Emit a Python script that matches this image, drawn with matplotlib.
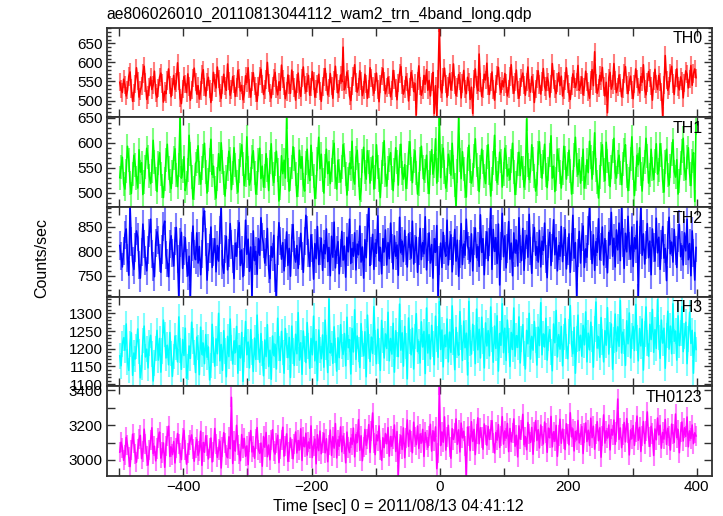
import numpy as np
import matplotlib
matplotlib.use("Agg")
import matplotlib.pyplot as plt
from matplotlib.ticker import MultipleLocator, FuncFormatter

plt.rcParams['font.family'] = ['Liberation Sans', 'DejaVu Sans']

title = "ae806026010_20110813044112_wam2_trn_4band_long.qdp"
xlabel = "Time [sec] 0 = 2011/08/13 04:41:12"
ylabel = "Counts/sec"
band_names = ["TH0", "TH1", "TH2", "TH3", "TH0123"]
band_colors = ["#ff0000", "#00ff00", "#0000ff", "#00ffff", "#ff00ff"]

t_first = -499.0
t_last = 399.0

th0 = [548, 530, 521, 556, 541, 512, 527, 563, 575, 532, 498, 519, 544, 586, 551, 509, 526, 538, 571, 590, 547, 503, 515, 536, 562, 529, 541, 577, 519, 508,
       533, 561, 572, 545, 496, 524, 518, 553, 583, 540, 510, 535, 566, 529, 547, 599, 552, 507, 492, 531, 563, 544, 521, 570, 537, 501, 528, 559, 585, 548,
       517, 539, 504, 526, 568, 581, 536, 512, 549, 561, 530, 495, 522, 574, 546, 533, 588, 557, 520, 506, 541, 569, 538, 527, 596, 551, 514, 529, 563, 543,
       511, 534, 579, 558, 525, 540, 502, 518, 565, 547, 586, 532, 509, 550, 573, 539, 521, 498, 537, 564, 582, 543, 516, 529, 555, 600, 546, 520, 507, 539,
       560, 574, 531, 515, 549, 527, 593, 556, 538, 505, 524, 567, 542, 519, 580, 553, 534, 501, 545, 572, 528, 511, 559, 588, 540, 523, 547, 566, 514, 536,
       576, 552, 509, 530, 544, 569, 525, 498, 537, 562, 584, 548, 515, 533, 571, 539, 506, 553, 590, 545, 520, 531, 567, 549, 640, 528, 541, 575, 556, 512,
       500, 538, 563, 594, 547, 522, 535, 578, 551, 513, 528, 569, 544, 506, 531, 586, 560, 537, 519, 549, 572, 529, 497, 543, 565, 584, 550, 518, 534, 561,
       540, 510, 526, 579, 555, 533, 502, 546, 571, 589, 541, 517, 530, 563, 548, 499, 536, 574, 557, 524, 545, 462, 552, 591, 538, 514, 529, 566, 543, 581,
       527, 553, 512, 548, 574, 466, 539, 460, 556, 705, 531, 520, 562, 585, 544, 509, 537, 571, 528, 550, 596, 541, 513, 534, 568, 552, 507, 545, 579, 530,
       518, 561, 549, 503, 535, 466, 557, 583, 540, 526, 622, 547, 511, 532, 569, 554, 598, 538, 516, 548, 575, 529, 501, 543, 566, 587, 539, 521, 552, 536,
       571, 545, 512, 530, 563, 594, 541, 519, 548, 580, 527, 506, 535, 559, 572, 540, 514, 549, 588, 533, 522, 563, 545, 495, 531, 556, 578, 542, 517, 550,
       584, 537, 526, 561, 548, 509, 543, 597, 555, 530, 518, 547, 573, 539, 564, 512, 529, 551, 586, 544, 521, 503, 538, 570, 557, 534, 548, 592, 527, 540,
       562, 515, 536, 577, 549, 524, 506, 553, 581, 539, 628, 545, 519, 533, 566, 551, 587, 537, 512, 548, 468, 559, 574, 530, 542, 597, 553, 521, 535, 567,
       546, 510, 532, 571, 589, 541, 518, 550, 564, 527, 505, 544, 583, 556, 535, 520, 563, 548, 594, 531, 515, 547, 576, 559, 538, 501, 552, 582, 543, 529,
       566, 549, 523, 458, 541, 618, 554, 527, 538, 573, 590, 545, 516, 559, 583, 537, 528, 562, 551, 507, 546, 578, 569, 533, 557, 592, 540, 571, 583, 560]

th1 = [530, 552, 571, 518, 507, 544, 593, 566, 520, 498, 537, 575, 556, 529, 509, 586, 541, 560, 496, 522, 552, 589, 571, 533, 518, 544, 605, 561, 527, 502,
       559, 580, 538, 514, 490, 527, 566, 597, 549, 523, 508, 541, 570, 588, 535, 512, 556, 655, 529, 543, 572, 504, 519, 546, 615, 577, 531, 487, 510, 558,
       563, 594, 539, 517, 550, 574, 599, 541, 499, 525, 566, 607, 536, 553, 510, 489, 528, 578, 544, 600, 561, 519, 493, 532, 547, 583, 568, 506, 540, 590,
       555, 522, 501, 543, 575, 596, 558, 514, 536, 612, 549, 515, 527, 571, 584, 540, 497, 519, 566, 589, 528, 553, 511, 534, 578, 545, 504, 561, 598, 537,
       520, 557, 583, 546, 483, 509, 574, 538, 565, 529, 652, 546, 503, 528, 551, 592, 568, 537, 492, 515, 585, 549, 572, 516, 503, 560, 587, 541, 524, 595,
       557, 533, 488, 512, 567, 611, 548, 577, 526, 499, 554, 587, 538, 562, 518, 546, 581, 599, 532, 507, 565, 544, 521, 551, 596, 576, 537, 495, 528, 559,
       548, 603, 530, 517, 570, 585, 535, 486, 506, 563, 591, 541, 527, 584, 562, 519, 548, 573, 507, 531, 596, 552, 525, 490, 541, 578, 604, 535, 513, 549,
       566, 580, 529, 504, 545, 590, 561, 515, 573, 597, 540, 527, 556, 508, 531, 579, 602, 548, 520, 563, 584, 539, 497, 517, 568, 593, 551, 526, 543, 575,
       522, 498, 560, 586, 537, 554, 608, 519, 545, 658, 530, 574, 589, 541, 509, 526, 577, 562, 535, 599, 551, 516, 470, 544, 650, 565, 528, 582, 547, 513,
       491, 568, 595, 543, 519, 535, 574, 608, 556, 528, 502, 551, 587, 562, 534, 518, 571, 596, 540, 493, 527, 560, 615, 548, 520, 539, 581, 564, 511, 538,
       589, 572, 533, 547, 526, 564, 599, 541, 496, 519, 558, 581, 534, 572, 549, 511, 530, 648, 555, 526, 543, 596, 567, 534, 503, 518, 579, 602, 553, 529,
       562, 597, 536, 510, 548, 575, 614, 529, 553, 502, 527, 587, 566, 541, 509, 540, 593, 570, 527, 558, 585, 544, 497, 521, 575, 611, 555, 536, 566, 519,
       548, 587, 509, 531, 566, 540, 603, 571, 527, 559, 620, 545, 522, 489, 531, 578, 596, 546, 524, 601, 563, 538, 512, 552, 583, 609, 541, 529, 561, 575,
       540, 516, 558, 585, 596, 533, 504, 527, 567, 612, 550, 494, 528, 575, 556, 590, 537, 503, 548, 562, 609, 574, 519, 536, 587, 548, 526, 563, 598, 537,
       545, 598, 576, 523, 501, 561, 587, 536, 515, 553, 578, 606, 542, 531, 566, 497, 524, 559, 584, 609, 547, 526, 571, 590, 538, 514, 563, 580, 482, 640]

th2 = [812, 790, 768, 801, 834, 846, 787, 751, 895, 820, 779, 763, 808, 842, 829, 772, 745, 798, 856, 815, 781, 760, 803, 838, 866, 795, 769, 748, 817, 840,
       823, 786, 757, 804, 851, 862, 793, 776, 748, 815, 832, 797, 770, 822, 849, 784, 702, 818, 839, 765, 802, 828, 776, 750, 790, 705, 810, 852, 795, 783,
       838, 776, 810, 752, 795, 868, 883, 819, 741, 789, 806, 850, 767, 799, 826, 758, 812, 780, 844, 893, 773, 755, 805, 831, 762, 796, 857, 814, 785, 744,
       817, 790, 836, 859, 771, 803, 748, 778, 864, 794, 825, 759, 809, 703, 842, 781, 800, 753, 826, 792, 869, 830, 815, 776, 798, 847, 764, 744, 810, 788,
       833, 746, 704, 802, 859, 821, 784, 818, 760, 797, 840, 771, 806, 749, 828, 855, 793, 778, 812, 765, 801, 837, 790, 757, 822, 874, 843, 796, 769, 834,
       807, 743, 816, 785, 851, 773, 800, 827, 761, 814, 795, 846, 779, 808, 750, 831, 788, 860, 766, 803, 820, 754, 797, 841, 782, 811, 747, 829, 799, 866,
       775, 806, 790, 838, 762, 815, 793, 852, 778, 809, 745, 824, 787, 848, 892, 771, 800, 835, 763, 817, 796, 873, 781, 808, 754, 826, 799, 844, 772, 818,
       785, 858, 806, 764, 832, 790, 813, 751, 870, 797, 821, 779, 843, 802, 768, 836, 811, 786, 862, 774, 805, 829, 757, 800, 847, 783, 818, 795, 871, 762,
       809, 838, 776, 814, 745, 826, 798, 853, 706, 781, 817, 767, 839, 804, 790, 864, 772, 812, 834, 758, 801, 845, 780, 823, 749, 795, 857, 773, 815, 792,
       866, 811, 803, 779, 836, 760, 821, 848, 787, 810, 769, 875, 798, 826, 752, 813, 840, 781, 819, 895, 763, 845, 800, 828, 775, 856, 731, 811, 878, 789,
       832, 766, 806, 861, 784, 817, 750, 838, 797, 823, 770, 869, 805, 781, 847, 761, 814, 833, 788, 876, 800, 755, 827, 849, 792, 810, 778, 843, 768, 821,
       802, 858, 785, 746, 816, 839, 771, 807, 865, 793, 828, 760, 812, 790, 851, 779, 820, 845, 764, 801, 836, 757, 809, 874, 786, 818, 706, 797, 841, 776,
       830, 852, 767, 805, 788, 843, 893, 812, 775, 834, 761, 820, 798, 867, 783, 809, 850, 772, 826, 795, 756, 839, 814, 880, 790, 827, 768, 844, 803, 858,
       781, 894, 818, 765, 837, 799, 872, 811, 784, 850, 769, 828, 805, 862, 703, 823, 896, 792, 836, 774, 813, 857, 787, 821, 752, 846, 808, 780, 868, 797,
       829, 763, 814, 851, 786, 806, 740, 833, 870, 795, 819, 778, 845, 802, 767, 827, 855, 789, 812, 772, 838, 801, 866, 783, 816, 750, 842, 796, 741, 808]

th3 = [1180, 1152, 1213, 1231, 1196, 1270, 1163, 1139, 1214, 1245, 1125, 1188, 1171, 1207, 1256, 1192, 1118, 1147, 1223, 1264, 1177, 1199, 1146, 1217, 1238, 1185, 1109, 1160, 1201, 1252,
       1168, 1229, 1134, 1193, 1281, 1240, 1174, 1210, 1155, 1246, 1187, 1122, 1178, 1236, 1203, 1163, 1290, 1195, 1142, 1226, 1181, 1258, 1117, 1149, 1208, 1173, 1275, 1222, 1190, 1133,
       1233, 1204, 1127, 1261, 1184, 1216, 1158, 1240, 1176, 1205, 1112, 1153, 1269, 1197, 1151, 1228, 1186, 1300, 1166, 1212, 1139, 1251, 1193, 1121, 1235, 1178, 1284, 1202, 1157, 1222,
       1189, 1263, 1131, 1209, 1174, 1246, 1108, 1198, 1277, 1183, 1219, 1146, 1254, 1191, 1136, 1230, 1170, 1295, 1205, 1162, 1243, 1187, 1124, 1225, 1178, 1268, 1150, 1196, 1114, 1236,
       1181, 1212, 1143, 1286, 1201, 1167, 1249, 1190, 1131, 1257, 1209, 1175, 1232, 1119, 1264, 1194, 1153, 1241, 1186, 1302, 1168, 1217, 1128, 1250, 1199, 1161, 1274, 1208, 1145, 1229,
       1183, 1292, 1166, 1221, 1110, 1253, 1197, 1172, 1239, 1148, 1281, 1204, 1133, 1340, 1188, 1215, 1159, 1262, 1195, 1137, 1231, 1175, 1268, 1206, 1184, 1243, 1152, 1289, 1203, 1226,
       1129, 1257, 1191, 1310, 1170, 1236, 1198, 1147, 1271, 1213, 1180, 1248, 1121, 1295, 1206, 1164, 1233, 1187, 1319, 1218, 1158, 1255, 1193, 1139, 1280, 1224, 1174, 1242, 1201, 1303,
       1166, 1229, 1185, 1272, 1134, 1251, 1212, 1178, 1326, 1196, 1245, 1151, 1263, 1208, 1115, 1287, 1220, 1183, 1258, 1143, 1234, 1299, 1192, 1221, 1160, 1276, 1205, 1249, 1130, 1315,
       1188, 1240, 1171, 1266, 1214, 1155, 1292, 1227, 1176, 1333, 1198, 1253, 1149, 1238, 1206, 1284, 1163, 1247, 1190, 1321, 1219, 1141, 1260, 1211, 1182, 1305, 1232, 1167, 1278, 1203,
       1244, 1126, 1334, 1216, 1185, 1269, 1230, 1158, 1312, 1197, 1255, 1174, 1289, 1222, 1146, 1273, 1208, 1251, 1180, 1318, 1226, 1162, 1264, 1201, 1293, 1137, 1243, 1210, 1327, 1189,
       1258, 1167, 1281, 1223, 1150, 1246, 1198, 1315, 1179, 1237, 1204, 1290, 1160, 1228, 1268, 1186, 1143, 1252, 1214, 1300, 1171, 1235, 1196, 1277, 1225, 1154, 1261, 1209, 1330, 1183,
       1242, 1205, 1286, 1168, 1229, 1254, 1191, 1138, 1270, 1217, 1308, 1177, 1240, 1199, 1263, 1152, 1233, 1285, 1206, 1172, 1249, 1322, 1213, 1186, 1260, 1131, 1227, 1295, 1195, 1238,
       1179, 1266, 1211, 1304, 1163, 1244, 1197, 1275, 1228, 1148, 1256, 1332, 1202, 1234, 1176, 1288, 1219, 1163, 1251, 1210, 1316, 1185, 1239, 1270, 1142, 1225, 1298, 1193, 1262, 1207,
       1336, 1188, 1247, 1220, 1153, 1279, 1214, 1301, 1174, 1236, 1263, 1195, 1325, 1230, 1166, 1257, 1208, 1284, 1140, 1242, 1318, 1216, 1179, 1269, 1226, 1311, 1190, 1254, 1201, 1339,
       1232, 1173, 1281, 1216, 1258, 1145, 1238, 1306, 1199, 1264, 1186, 1327, 1221, 1250, 1168, 1293, 1209, 1244, 1319, 1192, 1236, 1275, 1158, 1228, 1303, 1215, 1252, 1131, 1246, 1198]

th0123 = [3045, 3102, 3071, 2998, 3030, 3130, 3085, 3018, 2962, 3057, 3148, 3096, 3033, 2987, 3062, 3119, 3141, 3008, 3049, 3177, 3090, 3024, 2971, 3056, 3113, 3185, 3037, 3079, 2995, 3066,
          3128, 3160, 3011, 3043, 3098, 2958, 3082, 3137, 3194, 3020, 3075, 3031, 3106, 2983, 3069, 3152, 3094, 3041, 3002, 3123, 3170, 3058, 2976, 3039, 3087, 3115, 3144, 3061, 2993, 3072,
          3118, 3027, 3053, 3165, 2969, 3101, 3044, 3139, 3083, 3006, 3070, 3126, 2989, 3048, 3181, 3092, 3015, 3060, 3108, 2954, 3074, 3157, 3096, 3029, 3013, 3133, 3064, 3360, 2980, 3111,
          3051, 3199, 3088, 3035, 2996, 3146, 3067, 3124, 3021, 3081, 2973, 3105, 3169, 3046, 3078, 3010, 3121, 3186, 3059, 3038, 3097, 2964, 3135, 3073, 3158, 3019, 3086, 3001, 3114, 3174,
          3052, 3034, 3099, 3142, 2985, 3065, 3117, 3188, 3022, 3080, 3150, 2992, 3045, 3127, 3063, 3007, 3093, 3161, 3040, 3112, 3058, 3179, 2997, 3131, 3076, 3154, 3028, 3103, 3067, 3196,
          3014, 3082, 3120, 2978, 3145, 3054, 3166, 3036, 3100, 3153, 3041, 3122, 2990, 3087, 3172, 3026, 3134, 3068, 3209, 3012, 3116, 3079, 3190, 3047, 3138, 3095, 2984, 3160, 3072, 3043,
          3126, 3089, 3183, 3018, 3147, 3101, 3232, 3055, 3139, 2996, 3075, 3175, 3084, 3121, 3203, 3043, 3167, 3270, 3098, 3031, 3144, 3110, 3196, 3059, 2998, 3128, 3071, 3152, 3093, 3186,
          3022, 3135, 3080, 3119, 3201, 3049, 3163, 2912, 3094, 3140, 3061, 3184, 3013, 3125, 3230, 3078, 3171, 3106, 3042, 3217, 3131, 3088, 3195, 3066, 3149, 3097, 3176, 3020, 3158, 3114,
          3073, 3137, 3205, 3051, 3168, 3108, 3190, 2950, 3039, 3430, 3083, 3161, 3102, 3248, 3057, 3132, 3199, 3074, 3010, 3180, 3118, 3154, 3236, 3090, 3173, 3046, 3212, 3127, 3165, 3079,
          2905, 3189, 3136, 3054, 3220, 3107, 3176, 3031, 3151, 3242, 3093, 3185, 3129, 3062, 3207, 3145, 3085, 3193, 3118, 3171, 3226, 3099, 3040, 3158, 3114, 3203, 3072, 3140, 3249, 3091,
          3167, 3125, 3210, 3048, 3181, 3104, 3153, 3236, 3079, 3142, 3018, 3196, 3120, 3170, 3262, 3087, 3134, 3059, 3215, 3148, 3101, 3187, 3033, 3159, 3226, 3112, 3174, 3069, 3201, 3138,
          3092, 3218, 3156, 3044, 3183, 3127, 3250, 3075, 3162, 3108, 3199, 3021, 3141, 3234, 3096, 3177, 3119, 3060, 3208, 3150, 3087, 3271, 3133, 3179, 3052, 3164, 3115, 3227, 3098, 3146,
          3192, 3037, 3155, 3213, 3106, 3171, 3083, 3240, 3128, 3194, 3062, 3149, 3220, 3111, 3185, 3016, 3137, 3259, 3097, 3168, 3126, 3201, 3058, 3176, 3143, 3229, 3090, 3161, 3350, 3118,
          3184, 3071, 3146, 3215, 3104, 3238, 3157, 3029, 3172, 3123, 3198, 3084, 3160, 3252, 3113, 3187, 3049, 3139, 3221, 3095, 3166, 3276, 3130, 3078, 3193, 3152, 3026, 3178, 3116, 3241,
          3144, 3199, 3068, 3158, 3120, 3233, 3089, 3182, 3137, 3057, 3206, 3150, 3101, 3264, 3128, 3174, 3042, 3161, 3218, 3109, 3185, 3135, 3247, 3076, 3167, 3123, 3201, 3094, 3156, 3138]

band_errors = [24, 24, 29, 36, 58]
band_ylims = [(456, 691), (471, 651), (707, 891), (1094, 1347), (2908, 3423)]
band_major = [50, 50, 50, 50, 100]
band_minor = [10, 10, 10, 10, None]
band_label_step = [50, 50, 50, 50, 200]
series = [th0, th1, th2, th3, th0123]
xlim = (-519.4, 423.4)

W, H = 723, 516
fig = plt.figure(figsize=(W / 100, H / 100), dpi=100)

left_px, right_px = 106.7, 711.7
top_px, bottom_px = 27.7, 476.0
panel_h = (bottom_px - top_px) / 5

spine_col = "#303030"
for k in range(5):
    y_top = top_px + k * panel_h
    ax = fig.add_axes([left_px / W, 1 - (y_top + panel_h) / H,
                       (right_px - left_px) / W, panel_h / H])
    y = np.array(series[k], dtype=float)
    t = np.linspace(t_first, t_last, len(y))
    col = band_colors[k]
    ax.vlines(t, y - band_errors[k], y + band_errors[k], colors=col, alpha=0.5, lw=1.5)
    ax.plot(t, y, color=col, lw=1.15)
    ax.set_xlim(*xlim)
    ax.set_ylim(*band_ylims[k])
    ax.xaxis.set_major_locator(MultipleLocator(100))
    ax.yaxis.set_major_locator(MultipleLocator(band_major[k]))
    if band_minor[k]:
        ax.yaxis.set_minor_locator(MultipleLocator(band_minor[k]))
    step = band_label_step[k]
    ax.yaxis.set_major_formatter(FuncFormatter(
        lambda v, p, s=step: f"{v:.0f}" if abs(v / s - round(v / s)) < 1e-6 else ""))
    if k == 4:
        ax.xaxis.set_major_formatter(FuncFormatter(
            lambda v, p: (f"{v:.0f}".replace("-", "\u2212")) if abs(v / 200 - round(v / 200)) < 1e-6 else ""))
    else:
        ax.set_xticklabels([])
    ax.tick_params(which="both", direction="in", top=True, right=True,
                   color=spine_col, width=1.0, labelsize=11, labelcolor="black")
    ax.tick_params(which="major", length=6, pad=3)
    ax.tick_params(which="minor", length=3)
    for s in ax.spines.values():
        s.set_color(spine_col)
        s.set_linewidth(1.3)
    ax.text(0.985, 0.96, band_names[k], transform=ax.transAxes, ha="right", va="top",
            fontsize=11.5, color="black")

fig.text(left_px / W, 1 - 14.5 / H, title, ha="left", va="center", fontsize=11.3)
fig.text(398 / W, 1 - 507 / H, xlabel, ha="center", va="center", fontsize=11.5)
fig.text(42 / W, 1 - 258 / H, ylabel, ha="center", va="center", rotation=90, fontsize=11.5)

fig.savefig("out.png", dpi=100)
